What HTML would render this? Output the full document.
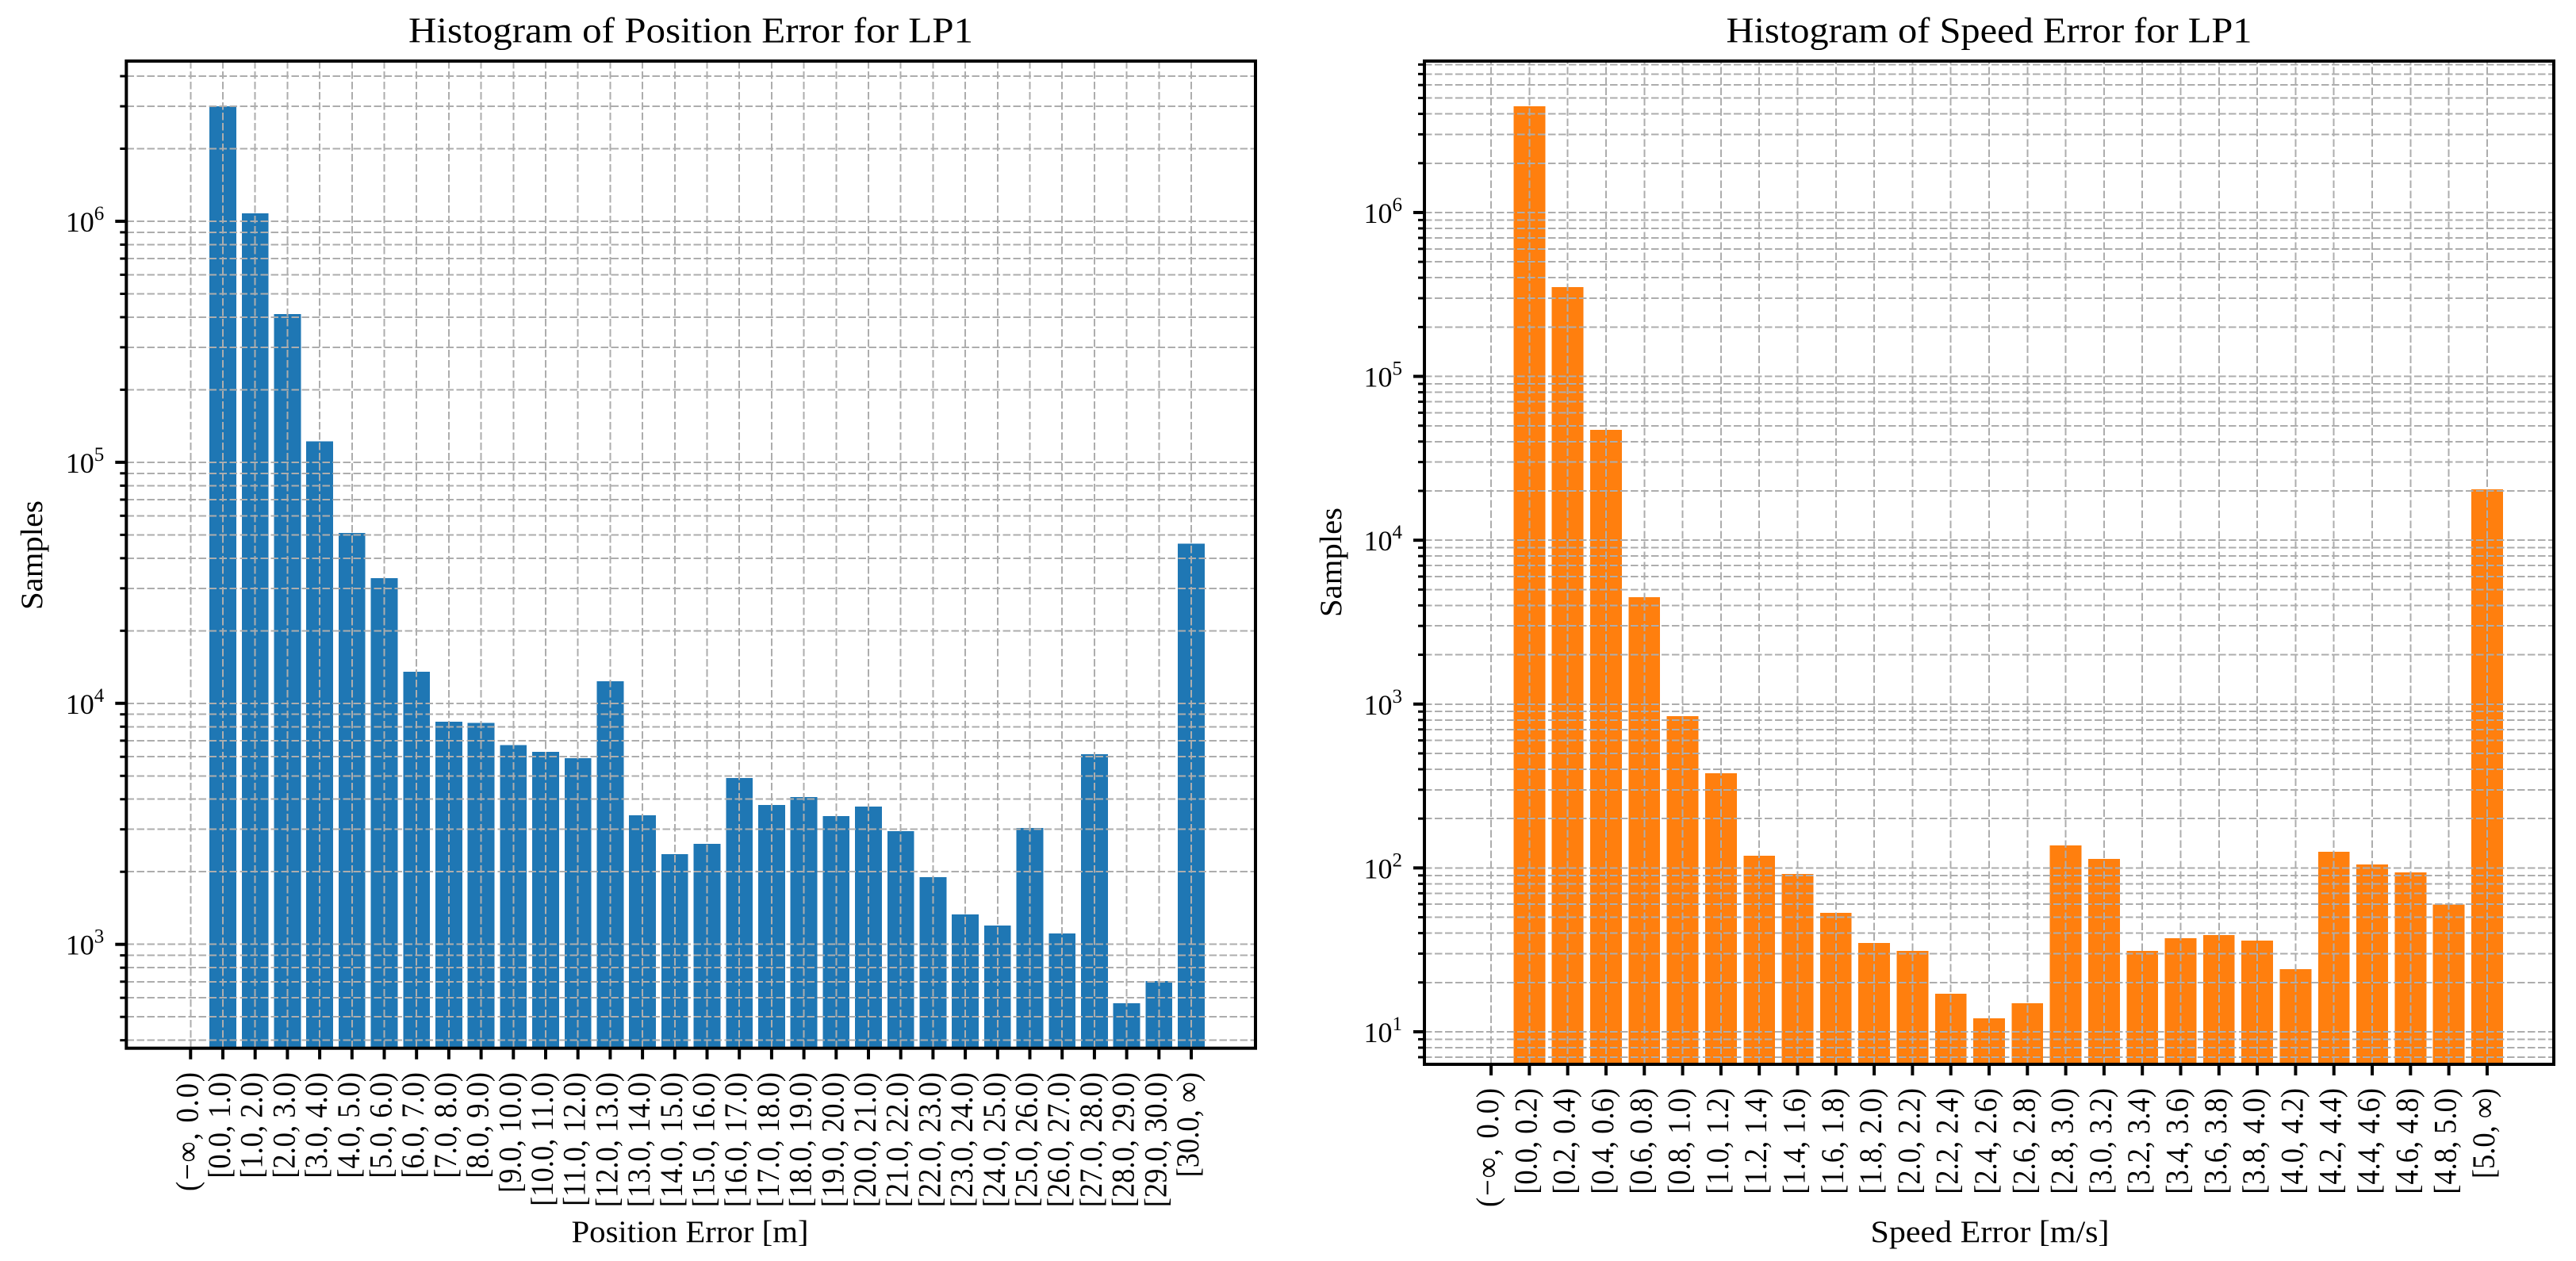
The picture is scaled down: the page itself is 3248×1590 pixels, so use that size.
<!DOCTYPE html>
<html lang="en">
<head>
<meta charset="utf-8">
<title>Histograms of Position and Speed Error for LP1</title>
<style>
html,body{margin:0;padding:0;background:#fff;}
svg{display:block;font-family:"Liberation Serif",serif;fill:#000;}
</style>
</head>
<body>
<svg id="figure" xmlns="http://www.w3.org/2000/svg" width="3248" height="1590" viewBox="0 0 3248 1590">
  <rect x="0" y="0" width="3248" height="1590" fill="#ffffff"/>
  <text x="871" y="53.5" text-anchor="middle" font-size="45" textLength="712" lengthAdjust="spacingAndGlyphs">Histogram of Position Error for LP1</text>
  <text x="2508" y="53.5" text-anchor="middle" font-size="45" textLength="663" lengthAdjust="spacingAndGlyphs">Histogram of Speed Error for LP1</text>
  <text x="870" y="1566" text-anchor="middle" font-size="39" textLength="299" lengthAdjust="spacingAndGlyphs">Position Error [m]</text>
  <text x="2509" y="1566" text-anchor="middle" font-size="39" textLength="301" lengthAdjust="spacingAndGlyphs">Speed Error [m/s]</text>
  <text transform="translate(53,700) rotate(-90)" text-anchor="middle" font-size="39" textLength="138" lengthAdjust="spacingAndGlyphs">Samples</text>
  <text transform="translate(1691,709) rotate(-90)" text-anchor="middle" font-size="39" textLength="138" lengthAdjust="spacingAndGlyphs">Samples</text>
  <g id="position-chart"></g>
  <g id="speed-chart"></g>
</svg>
<script>
const positionCategories = ["(\u2212\u221e, 0.0)","[0.0, 1.0)","[1.0, 2.0)","[2.0, 3.0)","[3.0, 4.0)","[4.0, 5.0)","[5.0, 6.0)","[6.0, 7.0)","[7.0, 8.0)","[8.0, 9.0)","[9.0, 10.0)","[10.0, 11.0)","[11.0, 12.0)","[12.0, 13.0)","[13.0, 14.0)","[14.0, 15.0)","[15.0, 16.0)","[16.0, 17.0)","[17.0, 18.0)","[18.0, 19.0)","[19.0, 20.0)","[20.0, 21.0)","[21.0, 22.0)","[22.0, 23.0)","[23.0, 24.0)","[24.0, 25.0)","[25.0, 26.0)","[26.0, 27.0)","[27.0, 28.0)","[28.0, 29.0)","[29.0, 30.0)","[30.0, \u221e)"];
const positionSamples = [0,3000000,1080000,412000,122000,51000,33000,13500,8400,8300,6700,6290,5916,12340,3430,2366,2612,4898,3786,4083,3404,3730,2950,1900,1330,1197,3040,1110,6160,570,703,46000];
const positionDecades = [3,4,5,6];
const positionYLimits = [370.7,4620000];

const speedCategories = ["(\u2212\u221e, 0.0)","[0.0, 0.2)","[0.2, 0.4)","[0.4, 0.6)","[0.6, 0.8)","[0.8, 1.0)","[1.0, 1.2)","[1.2, 1.4)","[1.4, 1.6)","[1.6, 1.8)","[1.8, 2.0)","[2.0, 2.2)","[2.2, 2.4)","[2.4, 2.6)","[2.6, 2.8)","[2.8, 3.0)","[3.0, 3.2)","[3.2, 3.4)","[3.4, 3.6)","[3.6, 3.8)","[3.8, 4.0)","[4.0, 4.2)","[4.2, 4.4)","[4.4, 4.6)","[4.6, 4.8)","[4.8, 5.0)","[5.0, \u221e)"];
const speedSamples = [0,4450000,350000,47200,4493,844,378,119,91.9,53.2,34.8,31.2,17.1,12.1,14.9,137,113.5,31.2,37.2,38.9,36,24.1,125.8,105,94,59.7,20400];
const speedDecades = [1,2,3,4,5,6];
const speedYLimits = [6.33,8400000];

const SVG_NS = 'http://www.w3.org/2000/svg';

function make(tag, parent) {
  const el = document.createElementNS(SVG_NS, tag);
  parent.appendChild(el);
  return el;
}

function drawChart(root, prefix, frame, categories, samples, decades, yLimits, color, labelTop) {
  const n = categories.length;
  const span = n - 1 + 0.8;
  const margin = 0.05 * span;
  const step = (frame.right - frame.left) / (span + 2 * margin);
  const xScale = function (i) { return frame.left + (i + 0.4 + margin) * step; };
  const logMin = Math.log10(yLimits[0]);
  const logMax = Math.log10(yLimits[1]);
  const yScale = function (v) {
    return frame.bottom - (Math.log10(v) - logMin) / (logMax - logMin) * (frame.bottom - frame.top);
  };

  // bars
  const barGroup = make('g', root);
  
  
  samples.forEach(function (value, i) {
    if (!(value > 0)) return;
    const w = 0.8 * step + 1.2;
    const top = yScale(value);
    const rect = make('rect', barGroup);
    
    
    rect.setAttribute('x', xScale(i) - w / 2);
    rect.setAttribute('y', top);
    rect.setAttribute('width', w);
    rect.setAttribute('height', Math.max(0, frame.bottom - top));
    rect.setAttribute('fill', color);
    rect.setAttribute('shape-rendering', 'crispEdges');
  });

  // y-axis tick values (majors and log minors)
  const yTicks = [];
  const lowest = Math.floor(logMin);
  const highest = Math.ceil(logMax);
  for (let e = lowest; e <= highest; e++) {
    for (let m = 1; m <= 9; m++) {
      const v = m * Math.pow(10, e);
      if (v >= yLimits[0] && v <= yLimits[1]) {
        yTicks.push({ value: v, major: m === 1 && decades.indexOf(e) >= 0, exponent: e });
      }
    }
  }

  // grid
  const gridGroup = make('g', root);
  
  
  gridGroup.setAttribute('stroke', '#adadad');
  gridGroup.setAttribute('stroke-width', '2');
  gridGroup.setAttribute('stroke-dasharray', '9.5 3.5');
  gridGroup.setAttribute('shape-rendering', 'crispEdges');
  gridGroup.setAttribute('fill', 'none');
  yTicks.forEach(function (t) {
    const line = make('line', gridGroup);
    
    
    line.setAttribute('x1', frame.left);
    line.setAttribute('x2', frame.right);
    line.setAttribute('y1', yScale(t.value));
    line.setAttribute('y2', yScale(t.value));
  });
  categories.forEach(function (c, i) {
    const line = make('line', gridGroup);
    
    
    line.setAttribute('x1', xScale(i));
    line.setAttribute('x2', xScale(i));
    line.setAttribute('y1', frame.bottom);
    line.setAttribute('y2', frame.top);
  });

  // y ticks and labels
  const yAxis = make('g', root);
  
  
  yTicks.forEach(function (t) {
    const y = yScale(t.value);
    const tick = make('line', yAxis);
    
    
    tick.setAttribute('x1', frame.left - (t.major ? 14 : 8));
    tick.setAttribute('x2', frame.left);
    tick.setAttribute('y1', y);
    tick.setAttribute('y2', y);
    tick.setAttribute('stroke', '#000');
    tick.setAttribute('stroke-width', t.major ? 4 : 3);
    if (t.major) {
      const label = make('text', yAxis);
      
      
      label.setAttribute('x', frame.left - 28);
      label.setAttribute('y', y + 13);
      label.setAttribute('text-anchor', 'end');
      label.setAttribute('font-size', '36');
      const base = make('tspan', label);
      base.textContent = '10';
      const exp = make('tspan', label);
      exp.setAttribute('font-size', '25');
      exp.setAttribute('dy', '-15');
      exp.textContent = String(t.exponent);
    }
  });

  // x ticks and labels
  const xAxis = make('g', root);
  
  
  categories.forEach(function (c, i) {
    const x = xScale(i);
    const tick = make('line', xAxis);
    
    
    tick.setAttribute('x1', x);
    tick.setAttribute('x2', x);
    tick.setAttribute('y1', frame.bottom);
    tick.setAttribute('y2', frame.bottom + 14);
    tick.setAttribute('stroke', '#000');
    tick.setAttribute('stroke-width', '4');
    const label = make('text', xAxis);
    
    
    label.setAttribute('transform', 'translate(' + (x + 9) + ',' + labelTop + ') rotate(-90) scale(1,1.1)');
    label.setAttribute('text-anchor', 'end');
    label.setAttribute('font-size', '36.5');
    if (c.indexOf('\u2212') >= 0) {
      label.setAttribute('textLength', '150');
    }
    label.textContent = c;
  });

  // spines
  const spines = make('rect', root);
  
  
  spines.setAttribute('x', frame.left);
  spines.setAttribute('y', frame.top);
  spines.setAttribute('width', frame.right - frame.left);
  spines.setAttribute('height', frame.bottom - frame.top);
  spines.setAttribute('fill', 'none');
  spines.setAttribute('stroke', '#000');
  spines.setAttribute('stroke-width', '4');
}

drawChart(document.getElementById('position-chart'), 'position',
  { left: 159.3, right: 1583, top: 77, bottom: 1321.7 },
  positionCategories, positionSamples, positionDecades, positionYLimits, '#1f77b4', 1352);

drawChart(document.getElementById('speed-chart'), 'speed',
  { left: 1796, right: 3220, top: 77, bottom: 1342 },
  speedCategories, speedSamples, speedDecades, speedYLimits, '#ff7f0e', 1372);
</script>
</body>
</html>
